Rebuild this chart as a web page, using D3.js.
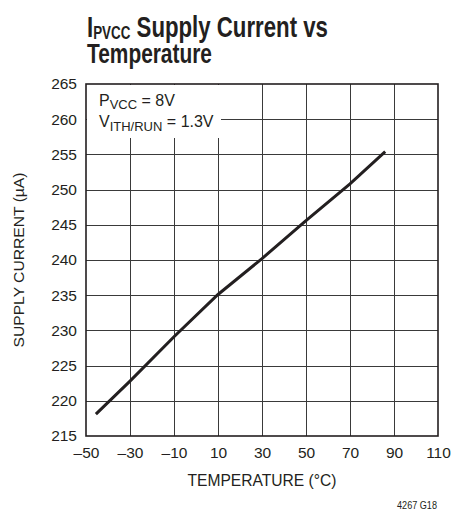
<!DOCTYPE html>
<html lang="en">
  <head>
    <meta charset="utf-8">
    <title>IPVCC Supply Current vs Temperature</title>
    <style>
      html, body {
        margin: 0;
        background: #fff;
      }
      svg {
        display: block;
        font-family: "Liberation Sans", Arial, sans-serif;
        fill: #231f20;
      }
      .grid line {
        stroke: #3a3a3a;
        stroke-width: 1;
        shape-rendering: crispEdges;
      }
      .tick text {
        font-size: 15.5px;
      }
    </style>
    <script src="https://d3js.org/d3.v7.min.js"></script>
  </head>
  <body>
    <svg width="451" height="519"></svg>
  </body>
  <script>
  // values
  const temps = [-45.5, -30, -10, 10, 30, 50, 70, 86];
  const current = [218.1, 222.8, 229.1, 235.1, 240.2, 245.6, 250.8, 255.4];
  const xTicks = [-50, -30, -10, 10, 30, 50, 70, 90, 110];
  const yTicks = [215, 220, 225, 230, 235, 240, 245, 250, 255, 260, 265];

  const svg = d3.select('svg');
  const plotL = 86, plotR = 438, plotT = 84, plotB = 436;

  const x = d3.scaleLinear().domain([-50, 110]).range([plotL, plotR]);
  const y = d3.scaleLinear().domain([215, 265]).range([plotB, plotT]);

  const ink = '#231f20';

  // squeeze a text horizontally so it looks like the condensed face of the original
  function squeeze(sel, px, py, w) {
    sel.attr('transform', `translate(${px},${py})`);
    const bw = sel.node().getBBox().width;
    sel.attr('transform', `translate(${px},${py}) scale(${w / bw},1)`);
  }

  // title
  const title = svg.append('text')
    .style('font-size', '29px')
    .style('font-weight', 'bold');
  title.append('tspan').text('I');
  title.append('tspan').attr('dy', 2).style('font-size', '17.5px').text('PVCC');
  title.append('tspan').attr('dy', -2).text(' Supply Current vs');
  squeeze(title, 87, 37, 241);
  const title2 = svg.append('text')
    .style('font-size', '28px')
    .style('font-weight', 'bold')
    .text('Temperature');
  squeeze(title2, 87, 63, 125);

  // grid
  const grid = svg.append('g').attr('class', 'grid');
  grid.selectAll('line.v')
    .data(xTicks.slice(1, -1))
    .enter().append('line')
    .attr('class', 'v')
    .attr('x1', d => Math.round(x(d)) + 0.5)
    .attr('x2', d => Math.round(x(d)) + 0.5)
    .attr('y1', plotT)
    .attr('y2', plotB);
  grid.selectAll('line.h')
    .data(yTicks.slice(1, -1))
    .enter().append('line')
    .attr('class', 'h')
    .attr('x1', plotL)
    .attr('x2', plotR)
    .attr('y1', d => Math.round(y(d)) + 0.5)
    .attr('y2', d => Math.round(y(d)) + 0.5);

  // axes (labels only)
  const xAxis = svg.append('g')
    .attr('transform', `translate(0,${plotB})`)
    .call(d3.axisBottom(x).tickValues(xTicks).tickSize(0).tickPadding(11)
      .tickFormat(d => String(d).replace('-', '\u2013')));
  const yAxis = svg.append('g')
    .attr('transform', `translate(${plotL},0)`)
    .call(d3.axisLeft(y).tickValues(yTicks).tickSize(0).tickPadding(9));
  [xAxis, yAxis].forEach(a => {
    a.select('.domain').remove();
    a.selectAll('text').attr('fill', ink);
  });

  // annotation box
  svg.append('rect')
    .attr('x', plotL + 1)
    .attr('y', plotT + 1)
    .attr('width', 134)
    .attr('height', 53)
    .attr('fill', '#fff');
  const note1 = svg.append('text').attr('x', 99).attr('y', 106).style('font-size', '16px');
  note1.append('tspan').text('P');
  note1.append('tspan').attr('dy', 3).style('font-size', '13px').text('VCC');
  note1.append('tspan').attr('dy', -3).text(' = 8V');
  const note2 = svg.append('text').attr('x', 99).attr('y', 127).style('font-size', '16px');
  note2.append('tspan').text('V');
  note2.append('tspan').attr('dy', 4).style('font-size', '13px').text('ITH/RUN');
  note2.append('tspan').attr('dy', -4).text(' = 1.3V');

  // frame
  svg.append('rect')
    .attr('x', plotL)
    .attr('y', plotT)
    .attr('width', plotR - plotL)
    .attr('height', plotB - plotT)
    .attr('fill', 'none')
    .attr('stroke', ink)
    .attr('stroke-width', 1.6);

  // data line
  const line = d3.line()
    .x((d, i) => x(temps[i]))
    .y(d => y(d));
  svg.append('path')
    .datum(current)
    .attr('d', line)
    .attr('fill', 'none')
    .attr('stroke', ink)
    .attr('stroke-width', 3);

  // axis titles
  svg.append('text')
    .attr('x', (plotL + plotR) / 2)
    .attr('y', 485.5)
    .attr('text-anchor', 'middle')
    .attr('textLength', 149)
    .attr('lengthAdjust', 'spacingAndGlyphs')
    .style('font-size', '17px')
    .text('TEMPERATURE (\u00b0C)');
  svg.append('text')
    .attr('transform', `translate(24,${(plotT + plotB) / 2}) rotate(-90)`)
    .attr('text-anchor', 'middle')
    .attr('textLength', 175)
    .attr('lengthAdjust', 'spacingAndGlyphs')
    .style('font-size', '15.5px')
    .text('SUPPLY CURRENT (\u00b5A)');

  svg.append('text')
    .attr('x', 437)
    .attr('y', 509)
    .attr('text-anchor', 'end')
    .attr('textLength', 40)
    .attr('lengthAdjust', 'spacingAndGlyphs')
    .style('font-size', '10px')
    .text('4267 G18');
  </script>
</html>
